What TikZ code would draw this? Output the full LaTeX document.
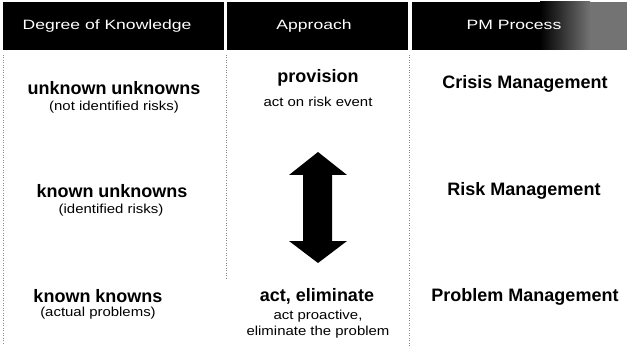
\documentclass[tikz,border=0pt]{standalone}
\usepackage{fontspec}
\setmainfont{Liberation Sans}
\newfontfamily\hdrfont[FakeStretch=1.3]{Liberation Sans}
\newfontfamily\bodyfont{Liberation Sans}
\newfontfamily\smlfont[FakeStretch=1.15]{Liberation Sans}
\begin{document}
\begin{tikzpicture}[x=1pt,y=-1pt,
  hdrbar/.style={fill=black},
  hdrtext/.style={anchor=base,inner sep=0pt,text=white,font=\hdrfont\fontsize{13.5}{15}\selectfont},
  bigtext/.style={anchor=base,inner sep=0pt,font=\bodyfont\bfseries\fontsize{18}{20}\selectfont},
  smalltext/.style={anchor=base,inner sep=0pt,font=\smlfont\fontsize{13}{15}\selectfont},
  sepline/.style={draw=black!45,line width=1pt,dash pattern=on 1pt off 1.5pt}]
\useasboundingbox[fill=white] (0,0) rectangle (627,350);
% header bars
\fill[hdrbar] (3,2) rectangle (224,50);
\fill[hdrbar] (227,2) rectangle (408,50);
\fill[hdrbar] (412,2) rectangle (627,50);
\shade[left color=black,right color=black!55] (540,2) rectangle (590,50);
\fill[black!55] (590,2) rectangle (627,50);
\node[hdrtext] (h1) at (107,30) {Degree of Knowledge};
\node[hdrtext] (h2) at (314,30) {Approach};
\node[hdrtext] (h3) at (514,30) {PM Process};
% separators
\draw[sepline] (3,55) -- (3,345);
\draw[sepline] (226,55) -- (226,280);
\draw[sepline] (409,55) -- (409,347);
% left column
\node[bigtext] (uu) at (114,95) {unknown unknowns};
\node[smalltext] (nir) at (114,111) {(not identified risks)};
\node[bigtext] (ku) at (112,198) {known unknowns};
\node[smalltext] (ir) at (111,214) {(identified risks)};
\node[bigtext] (kk) at (98,302) {known knowns};
\node[smalltext] (ap) at (98,316) {(actual problems)};
% middle column
\node[bigtext] (prov) at (318,83) {provision};
\node[smalltext] (are) at (318,107) {act on risk event};
\node[bigtext] (ae) at (317,301) {act, eliminate};
\node[smalltext] (apr) at (318,319) {act proactive,};
\node[smalltext] (etp) at (318,335) {eliminate the problem};
% double arrow
\coordinate (tipT) at (318,152);
\coordinate (tipB) at (318,263);
\fill[black] (tipT) -- (347,175) -- (332,175) -- (332,241) -- (347,241)
  -- (tipB) -- (289,241) -- (303,241) -- (303,175) -- (289,175) -- cycle;
% right column
\node[bigtext] (cm) at (525,89) {Crisis Management};
\node[bigtext] (rm) at (524,196) {Risk Management};
\node[bigtext] (pm) at (525,301) {Problem Management};
\end{tikzpicture}
\end{document}
